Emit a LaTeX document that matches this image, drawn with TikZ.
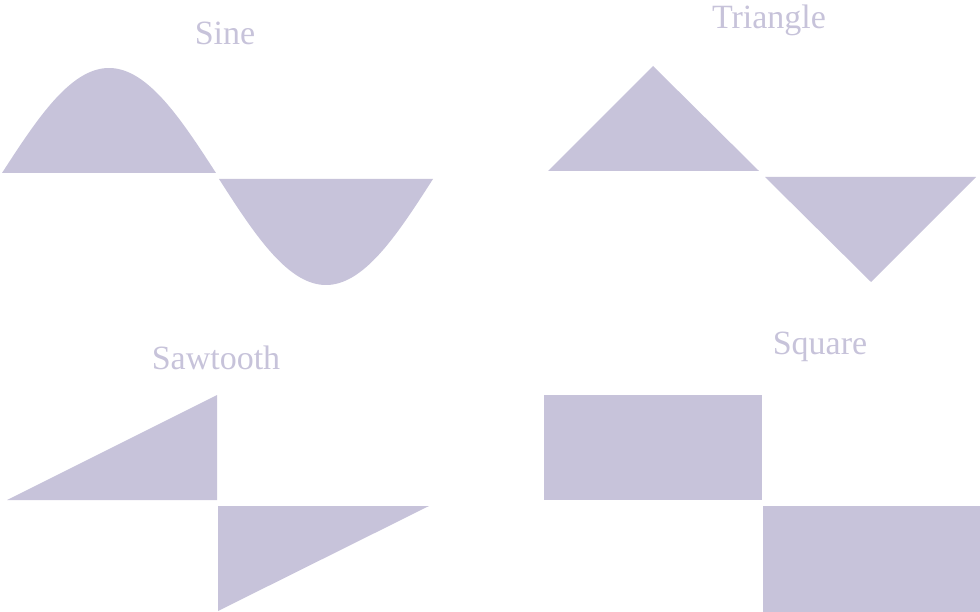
\documentclass[tikz,border=0pt]{standalone}
\usepackage{fontspec}
\setmainfont{Liberation Serif}
\definecolor{wave}{HTML}{C7C3DA}
\begin{document}
\begin{tikzpicture}[x=1pt,y=-1pt,
  lbl/.style={text=wave,font=\fontsize{34}{36}\selectfont,inner sep=0pt}]
\useasboundingbox (0,0) rectangle (980,612);
% Sine
\fill[wave] plot[domain=0:180,samples=80] ({2+\x/180*214},{173-105*sin(\x)}) -- cycle;
\fill[wave] plot[domain=0:180,samples=80] ({219+\x/180*214},{179+106*sin(\x)}) -- cycle;
% Triangle
\fill[wave] (548,171) -- (653,66) -- (759,171) -- cycle;
\fill[wave] (765,177) -- (871,282) -- (976,177) -- cycle;
% Sawtooth
\fill[wave] (7,500) -- (217,395) -- (217,500) -- cycle;
\fill[wave] (218,506) -- (429,506) -- (218,611) -- cycle;
% Square
\fill[wave] (544,395) rectangle (762,500);
\fill[wave] (763,506) rectangle (980,612);
% labels
\node[lbl] (sine) at (225,33) {Sine};
\node[lbl] (tri) at (769,20) {Triangle};
\node[lbl] (saw) at (216,358) {Sawtooth};
\node[lbl] (sq) at (820,347) {Square};
\end{tikzpicture}
\end{document}
